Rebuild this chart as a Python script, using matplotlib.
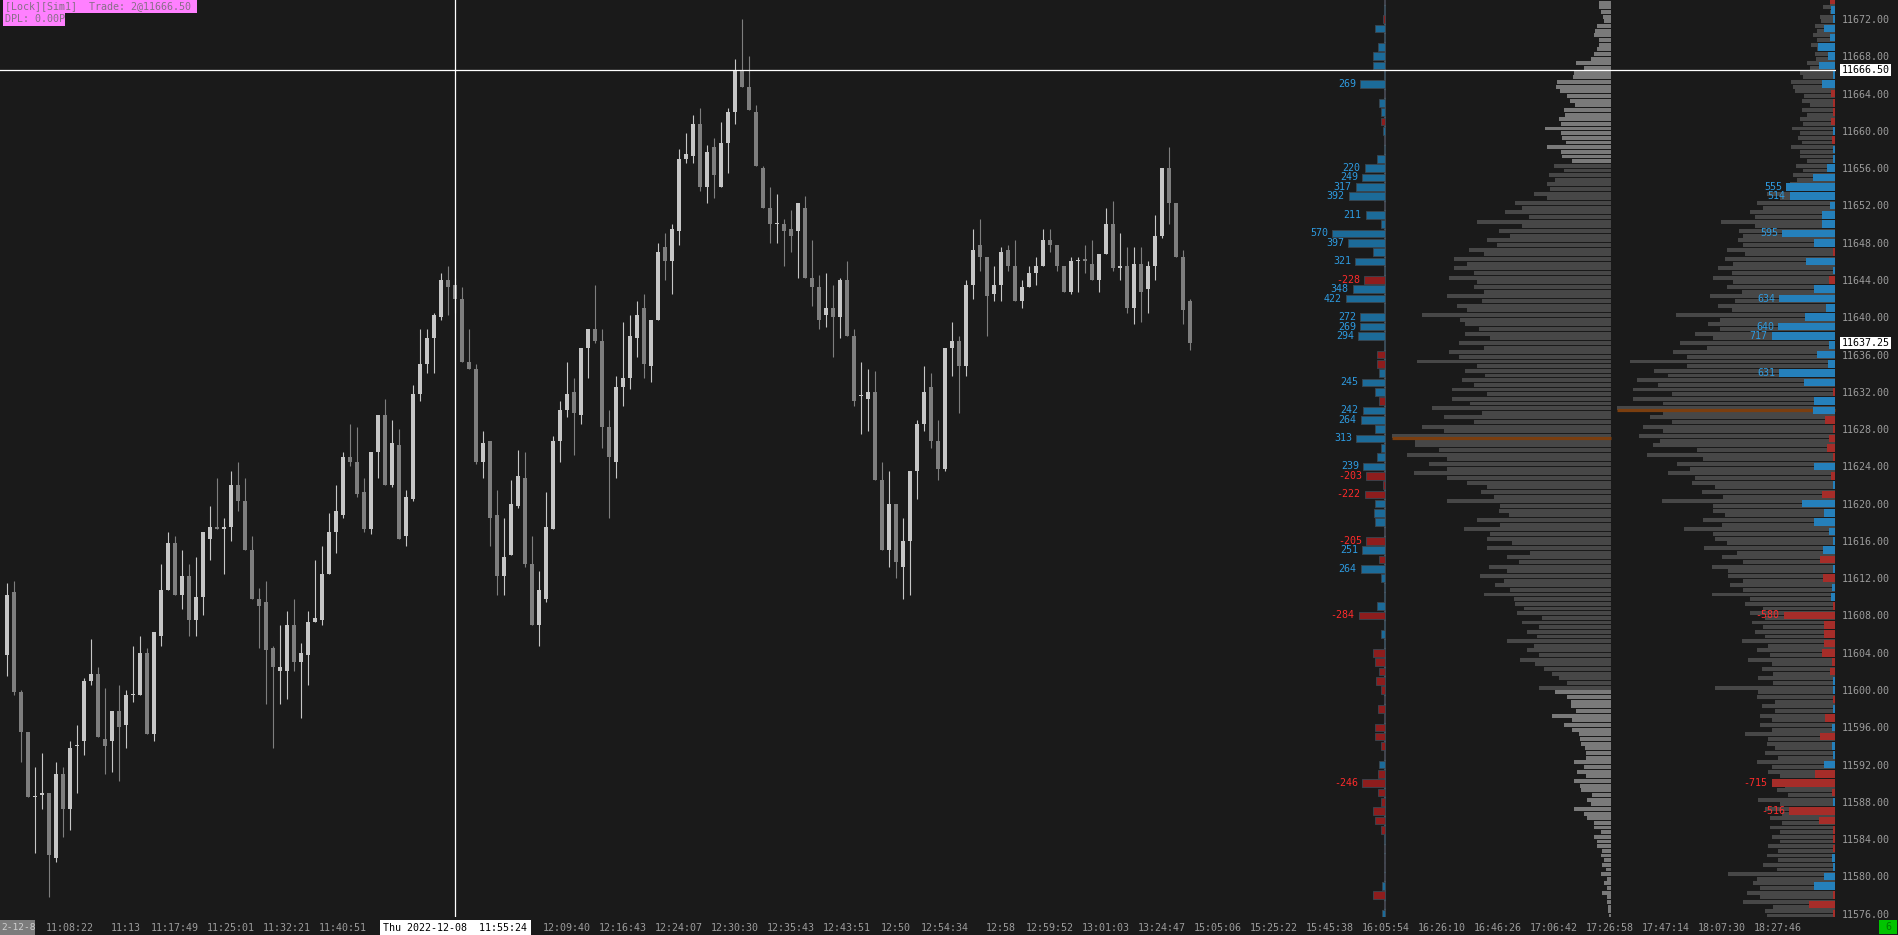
import matplotlib
matplotlib.use("Agg")
import matplotlib.pyplot as plt
import matplotlib.transforms as mtransforms
from matplotlib.patches import Rectangle
from matplotlib.ticker import FormatStrFormatter
import numpy as np

plt.rcParams['font.family'] = ['DejaVu Sans Mono', 'DejaVu Sans']

# ---------------- data ----------------
opens = [11603.75, 11610.5, 11599.75, 11595.5, 11588.5, 11588.75, 11589.0, 11582.0, 11591.0, 11587.25,
         11594.0, 11594.5, 11601.0, 11601.75, 11594.75, 11594.5, 11597.75, 11596.25, 11599.5, 11599.5,
         11604.0, 11595.25, 11605.75, 11610.75, 11615.75, 11610.25, 11612.25, 11607.5, 11610.0, 11616.25,
         11617.5, 11617.25, 11617.5, 11622.0, 11620.25, 11615.0, 11609.75, 11609.5, 11604.5, 11602.0,
         11602.0, 11607.0, 11603.0, 11603.75, 11607.25, 11607.5, 11612.5, 11617.0, 11618.75, 11625.0,
         11624.5, 11621.25, 11617.25, 11625.5, 11629.5, 11622.0, 11626.25, 11616.5, 11620.5, 11631.75,
         11635.0, 11637.75, 11640.0, 11644.0, 11643.5, 11642.0, 11635.25, 11634.5, 11624.5, 11626.75,
         11618.75, 11612.25, 11614.5, 11619.75, 11622.75, 11613.5, 11607.0, 11609.75, 11617.25, 11626.75,
         11630.0, 11632.0, 11629.5, 11636.75, 11638.75, 11637.5, 11628.25, 11624.5, 11632.5, 11633.5,
         11637.75, 11641.0, 11634.75, 11639.75, 11647.5, 11646.0, 11649.25, 11657.0, 11657.25, 11660.75,
         11654.0, 11658.25, 11654.0, 11658.75, 11662.0, 11666.5, 11664.75, 11662.0, 11656.0, 11651.75,
         11650.0, 11650.0, 11649.5, 11649.25, 11651.75, 11644.25, 11643.25, 11640.25, 11641.0, 11640.0,
         11644.0, 11638.0, 11631.5, 11631.25, 11632.0, 11622.5, 11615.0, 11620.0, 11613.25, 11616.0,
         11623.5, 11628.5, 11632.5, 11626.75, 11623.75, 11636.75, 11637.5, 11634.75, 11643.5, 11647.75,
         11646.5, 11642.5, 11643.5, 11647.25, 11645.5, 11641.75, 11643.25, 11644.75, 11645.5, 11648.25,
         11647.75, 11645.5, 11642.75, 11646.0, 11646.25, 11645.75, 11644.0, 11646.75, 11650.0, 11645.25,
         11645.5, 11641.0, 11645.75, 11643.0, 11645.5, 11648.75, 11656.0, 11652.25, 11646.5, 11641.75]
highs = [11611.5, 11611.75, 11600.0, 11595.5, 11591.75, 11593.25, 11589.0, 11592.25, 11591.75, 11594.5,
         11596.25, 11601.25, 11605.5, 11602.5, 11600.25, 11597.75, 11600.5, 11600.0, 11604.75, 11605.75,
         11604.5, 11606.25, 11613.5, 11617.0, 11616.5, 11615.0, 11613.5, 11614.25, 11617.0, 11619.75,
         11622.75, 11618.5, 11623.5, 11624.5, 11622.75, 11616.5, 11611.0, 11611.75, 11604.75, 11607.0,
         11608.5, 11609.75, 11605.0, 11608.5, 11614.0, 11615.5, 11619.0, 11622.0, 11625.5, 11628.5,
         11628.25, 11622.75, 11625.5, 11629.5, 11631.25, 11629.0, 11628.0, 11621.5, 11632.75, 11638.75,
         11638.75, 11640.5, 11644.75, 11645.5, 11644.25, 11643.25, 11638.75, 11635.0, 11627.75, 11626.75,
         11621.5, 11618.5, 11622.5, 11625.75, 11625.5, 11616.5, 11612.75, 11621.25, 11627.25, 11631.0,
         11635.25, 11633.5, 11636.75, 11638.75, 11643.5, 11638.75, 11630.0, 11633.75, 11639.5, 11640.25,
         11641.75, 11642.5, 11639.75, 11648.0, 11649.0, 11650.0, 11658.0, 11659.75, 11661.75, 11662.5,
         11658.5, 11659.25, 11661.0, 11662.5, 11667.75, 11672.0, 11668.0, 11662.75, 11656.25, 11654.0,
         11653.25, 11650.5, 11651.5, 11652.25, 11653.0, 11648.25, 11644.5, 11644.75, 11643.5, 11644.25,
         11646.0, 11638.75, 11635.25, 11634.5, 11634.25, 11624.5, 11623.5, 11620.0, 11618.5, 11623.5,
         11629.0, 11634.75, 11634.0, 11629.0, 11636.75, 11639.5, 11638.0, 11644.0, 11649.5, 11650.5,
         11646.5, 11645.5, 11647.5, 11647.75, 11648.25, 11644.0, 11645.5, 11646.5, 11649.5, 11649.5,
         11647.75, 11645.5, 11646.5, 11646.5, 11647.75, 11648.25, 11646.75, 11651.75, 11652.5, 11649.0,
         11647.5, 11647.5, 11647.5, 11646.0, 11651.0, 11656.0, 11658.25, 11652.25, 11647.25, 11642.0]
lows = [11601.5, 11599.5, 11592.25, 11588.5, 11582.5, 11587.25, 11577.75, 11581.5, 11584.25, 11585.0,
        11589.0, 11593.0, 11600.5, 11595.0, 11591.0, 11591.25, 11590.25, 11593.75, 11598.75, 11599.5,
        11595.25, 11594.5, 11604.75, 11610.75, 11610.25, 11608.75, 11605.75, 11605.75, 11608.0, 11614.0,
        11617.25, 11612.5, 11616.0, 11619.25, 11615.0, 11609.75, 11604.5, 11598.5, 11593.75, 11598.5,
        11599.0, 11602.0, 11597.0, 11600.5, 11607.25, 11607.0, 11612.5, 11614.75, 11618.5, 11624.0,
        11620.75, 11617.0, 11616.75, 11622.75, 11622.0, 11621.75, 11616.25, 11615.5, 11620.25, 11631.0,
        11634.0, 11634.0, 11639.75, 11640.25, 11640.5, 11635.25, 11634.5, 11624.25, 11622.75, 11615.5,
        11610.25, 11610.25, 11614.5, 11619.5, 11613.25, 11607.0, 11604.75, 11609.5, 11617.25, 11624.5,
        11629.25, 11625.25, 11628.5, 11633.5, 11637.25, 11626.0, 11618.5, 11622.75, 11630.5, 11632.25,
        11635.75, 11633.5, 11633.0, 11639.75, 11644.0, 11642.5, 11647.75, 11656.5, 11656.5, 11653.5,
        11652.25, 11652.75, 11654.0, 11655.5, 11660.75, 11664.75, 11662.25, 11656.25, 11651.75, 11648.0,
        11648.0, 11645.5, 11647.0, 11644.25, 11644.25, 11641.25, 11638.75, 11639.0, 11635.75, 11637.75,
        11638.0, 11630.5, 11627.5, 11627.75, 11622.5, 11615.0, 11613.25, 11612.0, 11609.75, 11610.25,
        11620.5, 11627.75, 11626.0, 11622.5, 11623.5, 11633.75, 11629.75, 11633.75, 11642.0, 11645.0,
        11638.0, 11641.75, 11641.75, 11645.0, 11641.75, 11641.0, 11643.25, 11643.5, 11645.5, 11647.0,
        11645.0, 11642.75, 11642.5, 11642.75, 11644.75, 11644.0, 11642.75, 11646.75, 11645.0, 11644.0,
        11640.5, 11639.25, 11639.5, 11640.5, 11644.0, 11648.5, 11650.0, 11646.5, 11639.25, 11636.5]
closes = [11610.25, 11599.75, 11595.5, 11588.5, 11588.5, 11589.0, 11582.25, 11591.0, 11587.25, 11593.75,
          11594.0, 11601.0, 11601.75, 11595.0, 11594.0, 11597.75, 11596.0, 11599.5, 11599.5, 11604.0,
          11595.25, 11606.25, 11610.75, 11615.75, 11610.25, 11612.25, 11607.5, 11610.0, 11617.0, 11617.5,
          11617.25, 11617.5, 11622.0, 11620.25, 11615.0, 11609.75, 11609.0, 11604.25, 11602.5, 11602.5,
          11607.0, 11603.0, 11604.0, 11607.25, 11607.75, 11612.5, 11617.0, 11619.25, 11625.0, 11624.5,
          11621.0, 11617.25, 11625.5, 11629.5, 11622.0, 11626.5, 11616.25, 11620.75, 11631.75, 11635.0,
          11637.75, 11640.25, 11644.0, 11643.25, 11642.0, 11635.25, 11634.5, 11624.5, 11626.5, 11618.5,
          11612.25, 11614.25, 11620.0, 11623.0, 11613.5, 11607.0, 11610.75, 11617.5, 11626.75, 11630.0,
          11631.75, 11629.75, 11636.75, 11638.75, 11637.5, 11628.25, 11625.0, 11632.5, 11633.5, 11638.0,
          11640.25, 11635.0, 11639.75, 11647.0, 11646.0, 11649.5, 11657.0, 11657.5, 11660.75, 11654.0,
          11657.75, 11655.25, 11658.75, 11662.0, 11666.5, 11664.75, 11662.25, 11656.25, 11651.75, 11650.0,
          11650.0, 11649.25, 11648.75, 11652.25, 11644.25, 11643.25, 11639.75, 11641.0, 11640.0, 11644.0,
          11638.0, 11631.0, 11631.5, 11632.0, 11622.5, 11615.0, 11620.0, 11613.75, 11616.0, 11623.5,
          11628.5, 11632.0, 11626.75, 11623.75, 11636.75, 11637.5, 11634.75, 11643.5, 11647.25, 11646.5,
          11642.25, 11643.5, 11647.0, 11645.5, 11641.75, 11643.25, 11644.75, 11645.5, 11648.25, 11647.75,
          11645.5, 11642.75, 11646.0, 11646.0, 11646.0, 11644.0, 11646.75, 11650.0, 11645.25, 11645.5,
          11641.0, 11645.75, 11642.75, 11645.5, 11648.75, 11656.0, 11652.25, 11646.5, 11640.75, 11637.25]

# price rows (1 point each) from top to bottom
row_prices = list(range(11674, 11575, -1))

# session volume profile 1 (upper half / lower half of each point)
prof1_hi = [17, 12, 8, 14, 17, 12, 17, 35, 37, 54, 51, 41, 47, 52, 66, 49, 64, 49, 57, 62,
            64, 77, 96, 106, 134, 112, 124, 142, 157, 157, 162, 137, 164, 154, 189, 146, 146, 152, 162, 194,
            146, 149, 159, 159, 179, 167, 189, 219, 196, 204, 182, 197, 144, 130, 164, 112, 134, 147, 124, 124,
            104, 122, 131, 116, 127, 96, 94, 89, 84, 104, 84, 91, 67, 52, 72, 44, 40, 59, 47, 32,
            30, 25, 37, 34, 37, 30, 24, 37, 24, 17, 17, 14, 10, 9, 10, 7, 9, 4, 3]
prof1_lo = [12, 10, 7, 16, 12, 14, 20, 27, 38, 55, 44, 36, 46, 50, 50, 45, 50, 39, 47, 56,
            61, 64, 89, 82, 89, 101, 114, 127, 144, 137, 134, 127, 129, 144, 151, 132, 121, 127, 152, 134,
            126, 137, 124, 141, 129, 137, 167, 196, 172, 164, 164, 164, 124, 117, 111, 102, 111, 121, 99, 81,
            92, 104, 107, 101, 97, 87, 69, 72, 74, 77, 72, 76, 59, 44, 56, 40, 35, 39, 39, 31,
            26, 25, 27, 25, 31, 19, 20, 27, 17, 10, 14, 9, 7, 5, 4, 4, 4, 3, 2]
va1_low, va1_high, poc1 = 11600.0, 11656.25, 11627

# volume profile 2
prof2_hi = [13, 12, 15, 20, 22, 24, 20, 28, 35, 44, 40, 33, 33, 35, 43, 37, 44, 35, 39, 42,
            45, 68, 78, 85, 114, 96, 97, 108, 110, 117, 122, 108, 125, 117, 159, 127, 140, 155, 162, 205,
            181, 198, 202, 202, 218, 185, 192, 196, 182, 188, 158, 167, 143, 133, 173, 122, 132, 151, 120, 131,
            113, 123, 107, 105, 123, 90, 85, 83, 80, 93, 78, 87, 73, 77, 120, 78, 73, 75, 75, 90,
            68, 70, 78, 67, 63, 58, 77, 70, 65, 65, 63, 67, 68, 72, 107, 82, 88, 92, 70]
prof2_lo = [5, 5, 14, 18, 18, 18, 19, 25, 32, 42, 31, 25, 28, 32, 35, 33, 35, 28, 32, 38,
            38, 55, 72, 80, 80, 92, 92, 90, 102, 103, 102, 93, 100, 103, 115, 115, 122, 128, 148, 148,
            167, 177, 163, 172, 172, 163, 172, 175, 138, 132, 145, 140, 120, 112, 122, 110, 113, 122, 108, 98,
            92, 107, 92, 92, 85, 72, 70, 72, 70, 67, 65, 63, 62, 62, 77, 60, 60, 63, 63, 67,
            60, 57, 63, 55, 50, 47, 55, 53, 53, 55, 55, 57, 57, 58, 78, 75, 75, 62, 68]
poc2 = 11630

# delta per price, column 1 and column 2
delta1 = [-15, 15, -20, 107, 15, 75, 128, 128, 15, 269, -15, 64, 50, -50, 29, -15, 15, 93, 220, 249,
          317, 392, -15, 211, 50, 570, 397, 136, 321, 15, -228, 348, 422, 15, 272, 269, 294, 15, -86, -86,
          64, 245, 114, -72, 242, 264, 107, 313, 50, 93, 239, -203, -29, -222, 107, 118, 107, -15, -205, 251,
          -72, 264, 50, 15, 15, 93, -284, 15, 50, 15, -128, -107, -64, -96, -43, -15, -75, -15, -107, -107,
          -43, -15, 64, -75, -246, -75, -43, -128, -107, -43, 15, -15, -15, -15, -15, 40, -128, -15, 40]
delta2 = [-57, 45, 17, 124, 57, 196, 76, 181, 17, 147, -45, -17, -17, -45, 23, -34, 17, 17, 90, 249,
          555, 514, 57, 147, 147, 595, 237, -17, 328, 17, -68, 237, 634, 102, 339, 640, 717, 68, 203, 79,
          631, 350, -17, 237, 249, -113, -17, -68, -90, -17, 237, -45, 17, -147, 373, 124, 237, 68, 17, 136,
          -170, 17, -136, 34, 45, -17, -580, -124, -124, -124, -147, -34, -57, 17, 17, -17, 17, -113, 34, -170,
          34, 17, 124, -226, -715, -34, 17, -516, -181, -17, -17, -17, 34, 17, 124, 237, -17, -294, -17]

price_ticks = list(range(11576, 11673, 4))
last_price = 11637.25
cross_price = 11666.50
cross_bar = 64

time_labels = ["11:08:22", "11:13", "11:17:49", "11:25:01", "11:32:21", "11:40:51", "12:09:40",
               "12:16:43", "12:24:07", "12:30:30", "12:35:43", "12:43:51", "12:50", "12:54:34",
               "12:58", "12:59:52", "13:01:03", "13:24:47", "15:05:06", "15:25:22", "15:45:38",
               "16:05:54", "16:26:10", "16:46:26", "17:06:42", "17:26:58", "17:47:14", "18:07:30",
               "18:27:46"]
time_bars = [9, 17, 24, 32, 40, 48, 80, 88, 96, 104, 112, 120, 127, 134, 142, 149, 157, 165,
             173, 181, 189, 197, 205, 213, 221, 229, 237, 245, 253]
cross_label = "Thu 2022-12-08  11:55:24"
left_date = "2-12-8"
header1 = "[Lock][Sim1]  Trade: 2@11666.50"
header2 = "DPL: 0.00P"

# ---------------- style / layout ----------------
W, H = 1898, 935
BG = '#1a1a1a'
UP_C, DN_C = '#c6c6c6', '#7e7e7e'
AXTXT = '#9c9c9c'
FS = 7.2
PLOT_R, PLOT_B = 1836, 917
P_TOP, P_BOT = 11674.04, 11575.65
BAR_X0, BAR_DX, BODY_W = 7, 7, 4.6
PROF1_R, PROF1_W = 1610.7, 219
PROF2_R, PROF2_W = 1835.0, 218
D1_X, D1_SCALE = 1385.3, 10.7
D2_X, D2_SCALE = 1835.0, 11.3

fig = plt.figure(figsize=(W / 100, H / 100), dpi=100, facecolor=BG)
ax = fig.add_axes([0, 1 - PLOT_B / H, PLOT_R / W, PLOT_B / H])
ax.set_facecolor(BG)
ax.set_xlim(0, PLOT_R)
ax.set_ylim(P_BOT, P_TOP)
for s in ax.spines.values():
    s.set_visible(False)

# candles
o = np.array(opens); h = np.array(highs); l = np.array(lows); c = np.array(closes)
xs = BAR_X0 + BAR_DX * np.arange(len(o))
cols = np.where(c >= o, UP_C, DN_C)
ax.vlines(xs, l, h, colors=cols, lw=0.8, zorder=3)
ax.bar(xs, np.maximum(np.abs(c - o), 0.12), bottom=np.minimum(o, c), width=BODY_W,
       color=cols, lw=0, zorder=4)

rp = np.array(row_prices, dtype=float)

# profile 1
p1 = np.array(prof1_hi + prof1_lo, dtype=float)
p1max = p1.max()
yc = np.concatenate([rp + 0.25, rp - 0.25])
w1 = p1 / p1max * PROF1_W
c1 = ['#474747' if (va1_low <= y <= va1_high + 0.01) else '#7a7a7a' for y in yc]
ax.barh(yc, w1, left=PROF1_R - w1, height=0.42, color=c1, lw=0, zorder=2)
ax.hlines(poc1, PROF1_R - PROF1_W, PROF1_R, color='#7b3e0f', lw=2.3, zorder=3)

# profile 2
p2 = np.array(prof2_hi + prof2_lo, dtype=float)
w2 = p2 / p2.max() * PROF2_W
ax.barh(yc, w2, left=PROF2_R - w2, height=0.42, color='#474747', lw=0, zorder=2)
ax.hlines(poc2, PROF2_R - PROF2_W, PROF2_R, color='#7b3e0f', lw=2.3, zorder=3)

# delta column 1
ax.axvline(D1_X, color='#4a5b68', lw=1.3, zorder=3)
d1 = np.array(delta1, dtype=float)
dw1 = np.abs(d1) / D1_SCALE
ax.barh(rp, dw1, left=D1_X - dw1, height=0.82,
        color=np.where(d1 >= 0, '#1c6b99', '#8e1d1d'), edgecolor='#3a4650', lw=0.6, zorder=4)
for p, v, w in zip(rp, d1, dw1):
    if abs(v) >= 200:
        ax.text(D1_X - w - 4, p, f"{int(v)}", ha='right', va='center', fontsize=FS,
                color='#2e9be0' if v > 0 else '#ff2b2b', zorder=6)

# delta column 2
d2 = np.array(delta2, dtype=float)
dw2 = np.abs(d2) / D2_SCALE
ax.barh(rp, dw2, left=D2_X - dw2, height=0.82,
        color=np.where(d2 >= 0, '#2580bb', '#a62d29'), lw=0, zorder=4)
for p, v, w in zip(rp, d2, dw2):
    if abs(v) >= 500:
        ax.text(D2_X - w - 4, p, f"{int(v)}", ha='right', va='center', fontsize=FS,
                color='#2e9be0' if v > 0 else '#ff2b2b', zorder=6)

# crosshair
ax.axhline(cross_price, color='white', lw=0.9, zorder=7)
ax.axvline(BAR_X0 + BAR_DX * cross_bar, color='white', lw=0.9, zorder=7)

# price axis
ax.yaxis.tick_right()
ax.set_yticks(price_ticks)
ax.yaxis.set_major_formatter(FormatStrFormatter('%.2f'))
ax.tick_params(axis='y', length=0, pad=4.3, labelsize=FS, labelcolor=AXTXT)
ax.set_xticks([])
for pr in (cross_price, last_price):
    ax.text(PLOT_R + 5.5, pr, f"{pr:.2f}", ha='left', va='center', fontsize=FS, color='black',
            clip_on=False, zorder=10,
            bbox=dict(boxstyle='square,pad=0.12', facecolor='white', edgecolor='none'))

# time axis
tr = mtransforms.blended_transform_factory(ax.transData, fig.transFigure)
ty = 1 - 928 / H
for lab, b in zip(time_labels, time_bars):
    ax.text(BAR_X0 + BAR_DX * b, ty, lab, transform=tr, ha='center', va='center',
            fontsize=FS, color=AXTXT, clip_on=False)
ax.text(BAR_X0 + BAR_DX * cross_bar, ty, cross_label, transform=tr, ha='center', va='center',
        fontsize=FS, color='black', clip_on=False, zorder=10,
        bbox=dict(boxstyle='square,pad=0.35', facecolor='white', edgecolor='none'))


def frect(x0, y0, x1, y1, color, z=10):
    fig.add_artist(Rectangle((x0 / W, 1 - y1 / H), (x1 - x0) / W, (y1 - y0) / H,
                             transform=fig.transFigure, facecolor=color, edgecolor='none', zorder=z))


frect(0, 920, 35, 935, '#7c7c7c')
fig.text(1.5 / W, ty, left_date, ha='left', va='center', fontsize=FS * 0.95, color='#cfcfcf', zorder=11)

# header
frect(2.7, 0, 197, 12.7, '#ff80ff')
frect(2.7, 12.7, 65, 26, '#ff80ff')
fig.text(5 / W, 1 - 6.5 / H, header1, ha='left', va='center', fontsize=FS, color='#876f87', zorder=11)
fig.text(5 / W, 1 - 19.5 / H, header2, ha='left', va='center', fontsize=FS, color='#876f87', zorder=11)

# status box
frect(1879, 920, 1897, 934, '#00c400')
fig.text(1888 / W, 1 - 927 / H, "6", ha='center', va='center', fontsize=FS, color='#007a00', zorder=11)

fig.savefig('out.png', dpi=100, facecolor=BG)
